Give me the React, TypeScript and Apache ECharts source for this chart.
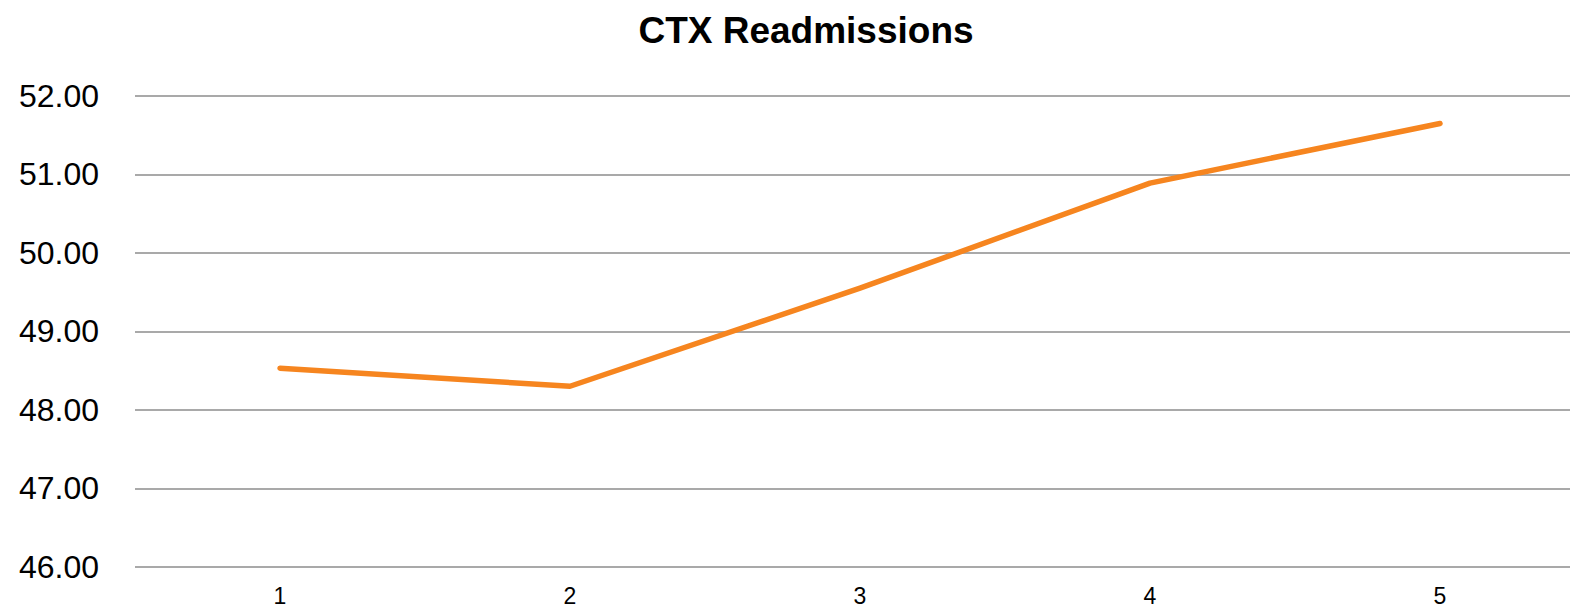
import React, { useEffect, useRef } from "react";
import * as echarts from "echarts";

const categories = ["1", "2", "3", "4", "5"];
const readmissions = [48.53, 48.3, 49.55, 50.89, 51.65];
const yMin = 46;
const yMax = 52;
const yStep = 1;
const titleText = "CTX Readmissions";

export default function App() {
  const ref = useRef<HTMLDivElement>(null);
  useEffect(() => {
    if (!ref.current) return;
    const chart = echarts.init(ref.current, null, { renderer: "svg" });
    chart.setOption({
      animation: false,
      backgroundColor: "#ffffff",
      title: {
        text: titleText,
        left: 801,
        top: 7,
        textAlign: "center",
        textStyle: {
          fontFamily: "Liberation Sans, Arial, sans-serif",
          fontWeight: "bold",
          fontSize: 37,
          color: "#000000",
        },
      },
      grid: {
        left: 135,
        top: 96,
        width: 1450,
        height: 470.7,
        containLabel: false,
        outerBoundsMode: "none",
      },
      xAxis: {
        type: "category",
        data: categories,
        boundaryGap: true,
        axisLine: { show: false },
        axisTick: { show: false },
        axisLabel: {
          margin: 18,
          fontSize: 23,
          fontFamily: "Liberation Sans, Arial, sans-serif",
          color: "#000000",
        },
        splitLine: { show: false },
      },
      yAxis: {
        type: "value",
        min: yMin,
        max: yMax,
        interval: yStep,
        axisLine: { show: false },
        axisTick: { show: false },
        axisLabel: {
          margin: 36,
          fontSize: 32,
          fontFamily: "Liberation Sans, Arial, sans-serif",
          color: "#000000",
          formatter: (v: number) => v.toFixed(2),
        },
        splitLine: { show: true, lineStyle: { color: "#8c8c8c", width: 1.6 } },
      },
      series: [
        {
          type: "line",
          data: readmissions,
          symbol: "none",
          lineStyle: { color: "#F6851F", width: 5.5, cap: "round", join: "round" },
          itemStyle: { color: "#F6851F" },
        },
      ],
    });
    return () => chart.dispose();
  }, []);
  return (
    <div
      ref={ref}
      style={{ position: "absolute", left: 0, top: 0, width: 1570, height: 611 }}
    />
  );
}
